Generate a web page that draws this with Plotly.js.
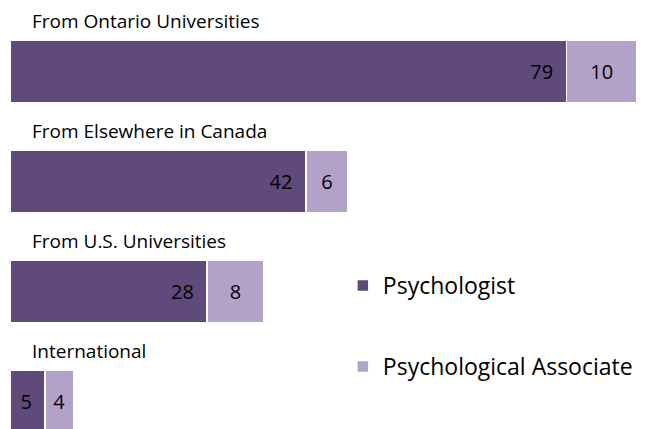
<!DOCTYPE html>
<html>
<head>
<meta charset="utf-8">
<script src="https://cdn.plot.ly/plotly-3.0.1.min.js"></script>
<style>html,body{margin:0;padding:0;background:#fff;}#chart{width:648px;height:429px;}</style>
</head>
<body>
<div id="chart"></div>
<script>
const categories = ["From Ontario Universities", "From Elsewhere in Canada", "From U.S. Universities", "International"];
const psychologist = [79, 42, 28, 5];
const psychAssociate = [10, 6, 8, 4];
const seriesNames = ["Psychologist", "Psychological Associate"];

const FONT = "Open Sans, sans-serif";
const darkColor = "#604a7b";
const lightColor = "#b3a2c7";

const traces = [
  {
    type: "bar", orientation: "h", name: seriesNames[0],
    y: categories, x: psychologist,
    marker: {color: darkColor, line: {color: "#ffffff", width: 1.5}},
    text: psychologist.map(v => String(v)),
    texttemplate: "%{text}\u00a0\u00a0",
    textposition: "inside", insidetextanchor: "end",
    textfont: {family: FONT, size: 20, color: "#000000"},
    width: 0.56, legendgroup: "a", hoverinfo: "skip"
  },
  {
    type: "bar", orientation: "h", name: seriesNames[1],
    y: categories, x: psychAssociate,
    marker: {color: lightColor, line: {color: "#ffffff", width: 1.5}},
    text: psychAssociate.map(v => String(v)),
    textposition: "inside", insidetextanchor: "middle",
    textfont: {family: FONT, size: 20, color: "#000000"},
    width: 0.56, legendgroup: "b", hoverinfo: "skip"
  }
];

const annotations = categories.map(c => ({
  text: c, x: 0, y: c, xref: "x", yref: "y",
  xanchor: "left", yanchor: "middle", xshift: 20, yshift: 51,
  showarrow: false, font: {family: FONT, size: 19, color: "#000000"}
}));

const layout = {
  width: 648, height: 429,
  margin: {l: 10, r: 4, t: 0, b: 0},
  paper_bgcolor: "#ffffff", plot_bgcolor: "#ffffff",
  barmode: "stack",
  showlegend: true,
  legend: {x: 0.525, y: 0.24, xanchor: "left", yanchor: "middle",
    font: {family: FONT, size: 23, color: "#000000"},
    tracegroupgap: 48, traceorder: "grouped", itemwidth: 30,
    bgcolor: "rgba(0,0,0,0)"},
  xaxis: {range: [0, 90], visible: false, fixedrange: true},
  yaxis: {type: "category", categoryorder: "array", categoryarray: categories,
    range: [3.25, -0.65], visible: false, fixedrange: true},
  annotations: annotations,
  font: {family: FONT}
};

Plotly.newPlot("chart", traces, layout, {displayModeBar: false, staticPlot: true});
</script>
</body>
</html>
